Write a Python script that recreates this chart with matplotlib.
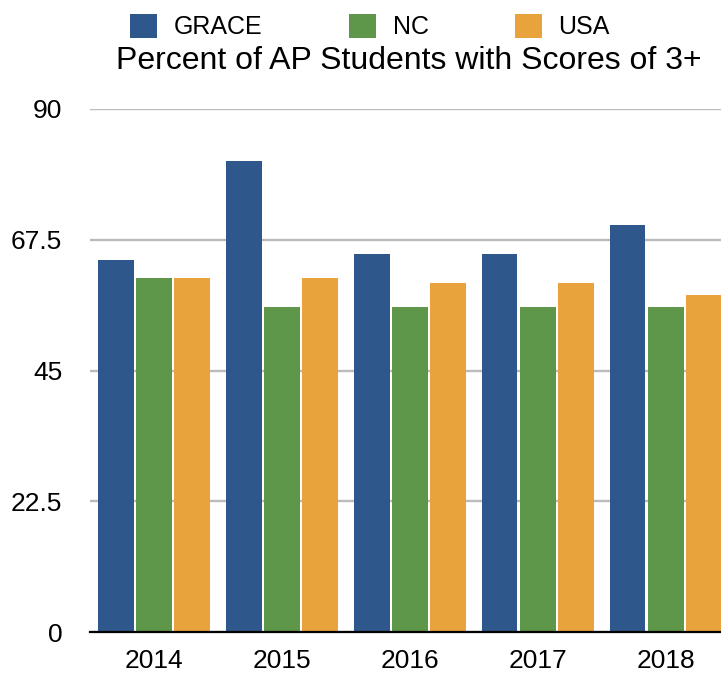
import numpy as np
import matplotlib
matplotlib.use("Agg")
import matplotlib.pyplot as plt
from matplotlib.patches import Patch

plt.rcParams['font.family'] = ['Liberation Sans', 'DejaVu Sans']

years = ['2014', '2015', '2016', '2017', '2018']
series = ['GRACE', 'NC', 'USA']
grace = [64, 81, 65, 65, 70]
nc = [61, 56, 56, 56, 56]
usa = [61, 61, 60, 60, 58]
colors = ['#2E588C', '#5E964A', '#E8A33C']
yticks = [0, 22.5, 45, 67.5, 90]
ytick_labels = ['0', '22.5', '45', '67.5', '90']

fig = plt.figure(figsize=(7.21, 6.73), dpi=100)
ax = fig.add_axes([90/721, 41/673, 1 - 90/721, (632 - 109)/673])

x = np.arange(len(years))
step = 0.3
width = 0.28
for k, (vals, c) in enumerate(zip([grace, nc, usa], colors)):
    ax.bar(x + (k - 1)*step, vals, width=width, color=c, zorder=3)

ax.set_xlim(-0.5, 4.43)
ax.set_ylim(0, 90)
ax.set_yticks(yticks)
ax.set_yticklabels(ytick_labels)
ax.set_xticks(x)
ax.set_xticklabels(years)
ax.tick_params(axis='both', length=0, labelsize=19)
ax.tick_params(axis='y', pad=20)
ax.tick_params(axis='x', pad=12)

ax.grid(axis='y', color='#bbbbbb', linewidth=1.7, zorder=0)
for s in ['top', 'right', 'left']:
    ax.spines[s].set_visible(False)
ax.spines['bottom'].set_color('black')
ax.spines['bottom'].set_linewidth(1.6)
ax.spines['bottom'].set_zorder(4)

handles = [Patch(facecolor=c, label=s) for s, c in zip(series, colors)]
fig.legend(handles=handles, loc='upper left', bbox_to_anchor=(130/721, 1 - 14/673),
           ncol=3, frameon=False, fontsize=18, handlelength=1.08, handleheight=1.08,
           handletextpad=0.68, columnspacing=3.44, borderpad=0, borderaxespad=0)

fig.text(116/721, 1 - 69/673, 'Percent of AP Students with Scores of 3+',
         fontsize=23, ha='left', va='baseline')

fig.savefig('out.png', dpi=100)
